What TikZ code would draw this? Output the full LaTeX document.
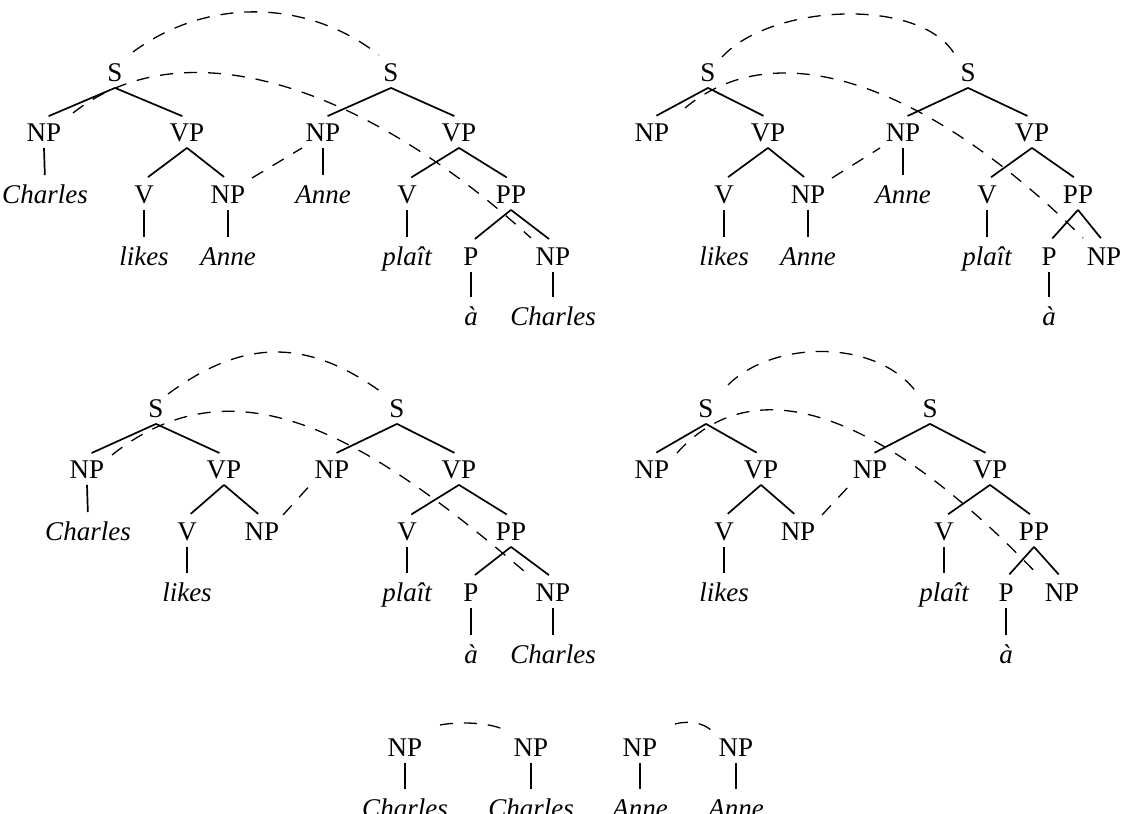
\documentclass[tikz,border=0pt]{standalone}
\usepackage{fontspec}
\setmainfont{Liberation Serif}

\begin{document}
\begin{tikzpicture}[x=0.5pt, y=-0.5pt,
                          cat/.style={font=\fontsize{13.5}{16}\selectfont, inner xsep=1pt, inner ysep=2.8pt, text height=8.9pt, text depth=0pt},
                          word/.style={cat, font=\fontsize{13.5}{16}\selectfont\itshape},
                          branch/.style={line width=0.85pt, shorten >=2.5pt},
                          link/.style={line width=0.65pt, dash pattern=on 6.5pt off 5.5pt},
                         ]

\path[use as bounding box, clip] (0,0) rectangle (1125,814);

\node[cat] (s1a) at (115,73) {S};
\node[cat] (s2a) at (391,73) {S};
\node[cat] (np1a) at (44,133) {NP};
\node[cat] (vp1a) at (187,133) {VP};
\node[cat] (np2a) at (323,133) {NP};
\node[cat] (vp2a) at (459,133) {VP};
\node[word] (charles1a) at (45,195) {Charles};
\node[cat] (v1a) at (144,195) {V};
\node[cat] (np3a) at (228,195) {NP};
\node[word] (anne1a) at (323,195) {Anne};
\node[cat] (v2a) at (407,195) {V};
\node[cat] (ppa) at (511,195) {PP};
\node[word] (likesa) at (144,257) {likes};
\node[word] (anne2a) at (228,257) {Anne};
\node[word] (plaita) at (407,257) {plaît};
\node[cat] (pa) at (471,257) {P};
\node[cat] (np4a) at (553,257) {NP};
\node[word] (aa) at (471,317) {à};
\node[word] (charles2a) at (553,317) {Charles};

\draw[branch] (s1a.south) edge (np1a.north) edge (vp1a.north);
\draw[branch] (s2a.south) edge (np2a.north) edge (vp2a.north);
\draw[branch] (vp1a.south) edge (v1a.north) edge (np3a.north);
\draw[branch] (vp2a.south) edge (v2a.north) edge (ppa.north);
\draw[branch] (ppa.south) edge (pa.north) edge (np4a.north);
\draw[branch] (np1a.south) edge (charles1a.north);
\draw[branch] (np2a.south) edge (anne1a.north);
\draw[branch] (v1a.south) edge (likesa.north);
\draw[branch] (np3a.south) edge (anne2a.north);
\draw[branch] (v2a.south) edge (plaita.north);
\draw[branch] (pa.south) edge (aa.north);
\draw[branch] (np4a.south) edge (charles2a.north);

\draw[link] ([shift={(18,-21)}]s1a.center) .. controls (206,-2) and (306,-2) .. ([shift={(-12,-18)}]s2a.center);
\draw[link] ([shift={(29,-20)}]np1a.center) .. controls (188,23) and (371,91) .. ([shift={(-22,-19)}]np4a.center);
\draw[link] ([shift={(24,-17)}]np3a.center) -- ([shift={(-21,15)}]np2a.center);

\node[cat] (s1b) at (708,73) {S};
\node[cat] (s2b) at (968,73) {S};
\node[cat] (np1b) at (652,133) {NP};
\node[cat] (vp1b) at (768,133) {VP};
\node[cat] (np2b) at (903,133) {NP};
\node[cat] (vp2b) at (1032,133) {VP};
\node[cat] (v1b) at (724,195) {V};
\node[cat] (np3b) at (808,195) {NP};
\node[word] (anne1b) at (903,195) {Anne};
\node[cat] (v2b) at (987,195) {V};
\node[cat] (ppb) at (1078,195) {PP};
\node[word] (likesb) at (724,257) {likes};
\node[word] (anne2b) at (808,257) {Anne};
\node[word] (plaitb) at (987,257) {plaît};
\node[cat] (pb) at (1049,257) {P};
\node[cat] (np4b) at (1104,257) {NP};
\node[word] (ab) at (1049,317) {à};

\draw[branch] (s1b.south) edge (np1b.north) edge (vp1b.north);
\draw[branch] (s2b.south) edge (np2b.north) edge (vp2b.north);
\draw[branch] (vp1b.south) edge (v1b.north) edge (np3b.north);
\draw[branch] (vp2b.south) edge (v2b.north) edge (ppb.north);
\draw[branch] (ppb.south) edge (pb.north) edge (np4b.north);
\draw[branch] (np2b.south) edge (anne1b.north);
\draw[branch] (v1b.south) edge (likesb.north);
\draw[branch] (np3b.south) edge (anne2b.north);
\draw[branch] (v2b.south) edge (plaitb.north);
\draw[branch] (pb.south) edge (ab.north);

\draw[link] ([shift={(14,-16)}]s1b.center) .. controls (772,3) and (922,-3) .. ([shift={(-13,-18)}]s2b.center);
\draw[link] ([shift={(33,-25)}]np1b.center) .. controls (785,25) and (943,98) .. ([shift={(-21,-19)}]np4b.center);
\draw[link] ([shift={(24,-17)}]np3b.center) -- ([shift={(-23,15)}]np2b.center);

\node[cat] (s1c) at (156,409) {S};
\node[cat] (s2c) at (397,409) {S};
\node[cat] (np1c) at (87,470) {NP};
\node[cat] (vp1c) at (224,470) {VP};
\node[cat] (np2c) at (332,470) {NP};
\node[cat] (vp2c) at (459,470) {VP};
\node[word] (charles1c) at (88,532) {Charles};
\node[cat] (v1c) at (187,532) {V};
\node[cat] (np3c) at (262,532) {NP};
\node[cat] (v2c) at (407,532) {V};
\node[cat] (ppc) at (511,532) {PP};
\node[word] (likesc) at (187,593) {likes};
\node[word] (plaitc) at (407,593) {plaît};
\node[cat] (pc) at (471,593) {P};
\node[cat] (np4c) at (553,593) {NP};
\node[word] (ac) at (471,655) {à};
\node[word] (charles2c) at (553,655) {Charles};

\draw[branch] (s1c.south) edge (np1c.north) edge (vp1c.north);
\draw[branch] (s2c.south) edge (np2c.north) edge (vp2c.north);
\draw[branch] (vp1c.south) edge (v1c.north) edge (np3c.north);
\draw[branch] (vp2c.south) edge (v2c.north) edge (ppc.north);
\draw[branch] (ppc.south) edge (pc.north) edge (np4c.north);
\draw[branch] (np1c.south) edge (charles1c.north);
\draw[branch] (v1c.south) edge (likesc.north);
\draw[branch] (v2c.south) edge (plaitc.north);
\draw[branch] (pc.south) edge (ac.north);
\draw[branch] (np4c.south) edge (charles2c.north);

\draw[link] ([shift={(12,-15)}]s1c.center) .. controls (244,338) and (308,338) .. ([shift={(-13,-15)}]s2c.center);
\draw[link] ([shift={(25,-15)}]np1c.center) .. controls (242,351) and (381,449) .. ([shift={(-22,-16)}]np4c.center);
\draw[link] ([shift={(21,-17)}]np3c.center) -- ([shift={(-19,12)}]np2c.center);

\node[cat] (s1d) at (706,409) {S};
\node[cat] (s2d) at (930,409) {S};
\node[cat] (np1d) at (652,470) {NP};
\node[cat] (vp1d) at (761,470) {VP};
\node[cat] (np2d) at (870,470) {NP};
\node[cat] (vp2d) at (990,470) {VP};
\node[cat] (v1d) at (724,532) {V};
\node[cat] (np3d) at (798,532) {NP};
\node[cat] (v2d) at (944,532) {V};
\node[cat] (ppd) at (1034,532) {PP};
\node[word] (likesd) at (724,593) {likes};
\node[word] (plaitd) at (944,593) {plaît};
\node[cat] (pd) at (1006,593) {P};
\node[cat] (np4d) at (1062,593) {NP};
\node[word] (ad) at (1006,655) {à};

\draw[branch] (s1d.south) edge (np1d.north) edge (vp1d.north);
\draw[branch] (s2d.south) edge (np2d.north) edge (vp2d.north);
\draw[branch] (vp1d.south) edge (v1d.north) edge (np3d.north);
\draw[branch] (vp2d.south) edge (v2d.north) edge (ppd.north);
\draw[branch] (ppd.south) edge (pd.north) edge (np4d.north);
\draw[branch] (v1d.south) edge (likesd.north);
\draw[branch] (v2d.south) edge (plaitd.north);
\draw[branch] (pd.south) edge (ad.north);

\draw[link] ([shift={(22,-24)}]s1d.center) .. controls (773,340) and (877,338) .. ([shift={(-13,-16)}]s2d.center);
\draw[link] ([shift={(25,-17)}]np1d.center) .. controls (767,353) and (910,440) .. ([shift={(-22,-16)}]np4d.center);
\draw[link] ([shift={(24,-17)}]np3d.center) -- ([shift={(-20,15)}]np2d.center);

\node[cat] (npe1) at (405,748) {NP};
\node[cat] (npe2) at (531,748) {NP};
\node[cat] (npe3) at (640,748) {NP};
\node[cat] (npe4) at (736,748) {NP};
\node[word] (charlese1) at (405,809) {Charles};
\node[word] (charlese2) at (531,809) {Charles};
\node[word] (annee1) at (640,809) {Anne};
\node[word] (annee2) at (736,809) {Anne};

\draw[branch] (npe1.south) edge (charlese1.north);
\draw[branch] (npe2.south) edge (charlese2.north);
\draw[branch] (npe3.south) edge (annee1.north);
\draw[branch] (npe4.south) edge (annee2.north);

\draw[link] ([shift={(35,-23)}]npe1.center) .. controls (455,722) and (492,721) .. ([shift={(-23,-16)}]npe2.center);
\draw[link] ([shift={(35,-24)}]npe3.center) .. controls (685,721) and (703,721) .. ([shift={(-23,-16)}]npe4.center);

\end{tikzpicture}
\end{document}
